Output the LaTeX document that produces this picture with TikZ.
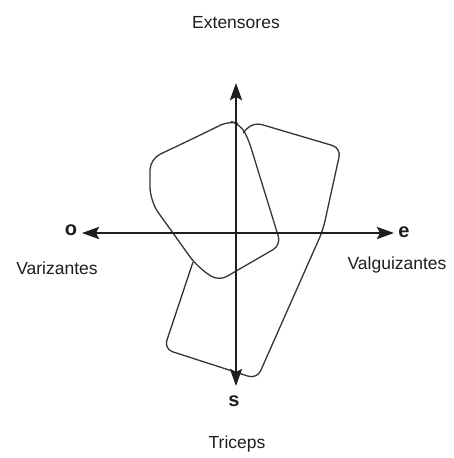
\documentclass[tikz,border=0pt]{standalone}
\usepackage{fontspec}
\setmainfont{Liberation Sans}
\usetikzlibrary{arrows.meta}
\definecolor{ink}{HTML}{1E1E1E}
\tikzset{
  axis/.style={line width=2.6pt, color=ink, {Stealth[length=17pt,width=12pt,inset=3pt]}-{Stealth[length=17pt,width=12pt,inset=3pt]}},
  outline/.style={line width=1.3pt, color=ink!90, rounded corners=9pt, line join=round},
  lbl/.style={font=\fontsize{17.5}{20}\selectfont, text=ink, inner sep=0pt},
  pole/.style={font=\fontsize{20}{22}\selectfont\bfseries, text=ink, inner sep=0pt}
}
\begin{document}
\begin{tikzpicture}[x=1pt,y=-1pt]
\useasboundingbox (0,0) rectangle (454,458);
% axes end points
\coordinate (N) at (236,83);
\coordinate (S) at (236,386);
\coordinate (W) at (82,233);
\coordinate (E) at (394,233);
% shapes
\draw[outline] (190,140) -- (229,121) -- (240,124) -- (248,138) -- (281,245) -- (219,281) [rounded corners=14pt] -- (198,268) -- (150,201) [rounded corners=11pt] -- (150,159) -- cycle;
\draw[outline] (193,262) -- (164,349) -- (257,379) -- (323,230) -- (341,148) -- (253,122) -- (243,133);
% axes
\draw[axis] (S) -- (N);
\draw[axis] (W) -- (E);
% labels
\node[lbl] (ext) at (236,23) {Extensores};
\node[lbl] (tri) at (237,444) {Triceps};
\node[pole] (po) at (71,230) {o};
\node[pole] (pe) at (404,232) {e};
\node[pole] (ps) at (234,401) {s};
\node[lbl] (var) at (57,268) {Varizantes};
\node[lbl] (val) at (397,265) {Valguizantes};
\end{tikzpicture}
\end{document}
